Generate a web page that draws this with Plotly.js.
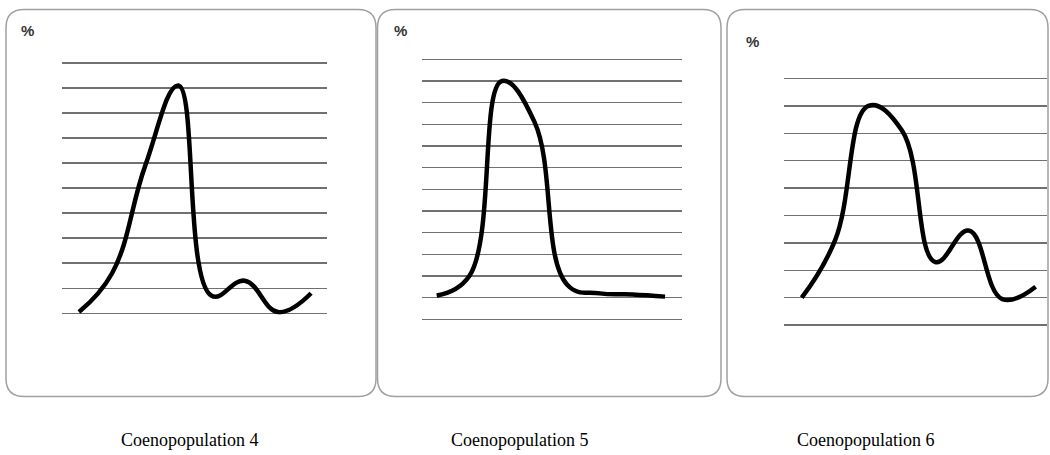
<!DOCTYPE html>
<html>
<head>
<meta charset="utf-8">
<script src="https://cdn.plot.ly/plotly-3.0.1.min.js"></script>
<style>
html,body{margin:0;padding:0;background:#fff;}
#chart{width:1050px;height:455px;}
</style>
</head>
<body>
<div id="chart"></div>
<script>
// ---- data (age-state spectra, % of individuals) ----
var stages = [1, 2, 3, 4, 5, 6, 7, 8];
var cp4 = [0.05, 1.6, 5.9, 9.1, 0.7, 1.3, 0.05, 0.8];
var cp5 = [0.1, 1.0, 10.0, 8.1, 0.6, 0.2, 0.15, 0.05];
var cp6 = [0.0, 2.1, 7.0, 6.1, 1.3, 2.45, -0.05, 0.4];
var panelTitles = ["Coenopopulation 4", "Coenopopulation 5", "Coenopopulation 6"];
var unitLabel = "%";

// ---- layout helpers (pixel -> paper) ----
var W = 1050, H = 455;
function fx(x){ return x / W; }
function fy(y){ return 1 - y / H; }

function yDomain(y0px, s, lo, hi){
  return [fy(y0px - lo * s), fy(y0px - hi * s)];
}

var panels = [
  {data: cp4, gx: [62, 327],   xr: [0.49, 8.48], y0: 313.3, s: 25.03, yr: [-0.06, 10.06], box: [6, 9.5, 376, 396.5], pct: [27, 31], cap: 190},
  {data: cp5, gx: [421.7, 681.7], xr: [0.54, 8.51], y0: 297.7, s: 21.67, yr: [-1.06, 11.06], box: [377.5, 9.5, 721, 396.5], pct: [400, 31], cap: 520},
  {data: cp6, gx: [784, 1047], xr: [0.47, 8.34], y0: 297.7, s: 27.4, yr: [-1.05, 8.05], box: [727, 9.5, 1048, 396.5], pct: [752, 41], cap: 866}
];

var traces = [];
var layout = {
  width: W, height: H,
  margin: {l: 0, r: 0, t: 0, b: 0},
  paper_bgcolor: "#ffffff",
  plot_bgcolor: "rgba(0,0,0,0)",
  showlegend: false,
  shapes: [],
  annotations: []
};

function roundRect(x0, y0, x1, y1, r){
  var p = "M" + fx(x0 + r) + "," + fy(y0) +
    " L" + fx(x1 - r) + "," + fy(y0) +
    " Q" + fx(x1) + "," + fy(y0) + " " + fx(x1) + "," + fy(y0 + r) +
    " L" + fx(x1) + "," + fy(y1 - r) +
    " Q" + fx(x1) + "," + fy(y1) + " " + fx(x1 - r) + "," + fy(y1) +
    " L" + fx(x0 + r) + "," + fy(y1) +
    " Q" + fx(x0) + "," + fy(y1) + " " + fx(x0) + "," + fy(y1 - r) +
    " L" + fx(x0) + "," + fy(y0 + r) +
    " Q" + fx(x0) + "," + fy(y0) + " " + fx(x0 + r) + "," + fy(y0) + " Z";
  return p;
}

panels.forEach(function(p, i){
  var n = i + 1;
  var xa = "xaxis" + (n === 1 ? "" : n), ya = "yaxis" + (n === 1 ? "" : n);
  traces.push({
    x: stages, y: p.data,
    xaxis: "x" + (n === 1 ? "" : n), yaxis: "y" + (n === 1 ? "" : n),
    type: "scatter", mode: "lines",
    line: {color: "#000000", width: 4.5, shape: "spline", smoothing: 1.2},
    hoverinfo: "skip"
  });
  layout[xa] = {
    domain: [fx(p.gx[0]), fx(p.gx[1])], range: p.xr,
    showgrid: false, zeroline: false, showline: false, showticklabels: false, ticks: "",
    anchor: "y" + (n === 1 ? "" : n)
  };
  layout[ya] = {
    domain: yDomain(p.y0, p.s, p.yr[0], p.yr[1]), range: p.yr,
    tick0: 0, dtick: 1, showgrid: true, gridcolor: "#707070", gridwidth: 1.5,
    zeroline: false, showline: false, showticklabels: false, ticks: "",
    anchor: "x" + (n === 1 ? "" : n)
  };
  layout.shapes.push({
    type: "path", xref: "paper", yref: "paper",
    path: roundRect(p.box[0], p.box[1], p.box[2], p.box[3], 18),
    line: {color: "#a0a0a0", width: 1.5}, fillcolor: "rgba(0,0,0,0)", layer: "below"
  });
  layout.annotations.push({
    xref: "paper", yref: "paper", x: fx(p.pct[0]), y: fy(p.pct[1]),
    xanchor: "center", yanchor: "middle", showarrow: false,
    text: unitLabel, font: {family: "Liberation Sans, Arial, sans-serif", size: 15, color: "#333333", weight: "bold"}
  });
  layout.annotations.push({
    xref: "paper", yref: "paper", x: fx(p.cap), y: fy(440),
    xanchor: "center", yanchor: "middle", showarrow: false,
    text: panelTitles[i], font: {family: "Liberation Serif, Times New Roman, serif", size: 18, color: "#000000"}
  });
});

Plotly.newPlot("chart", traces, layout, {displayModeBar: false, staticPlot: true});
</script>
</body>
</html>
